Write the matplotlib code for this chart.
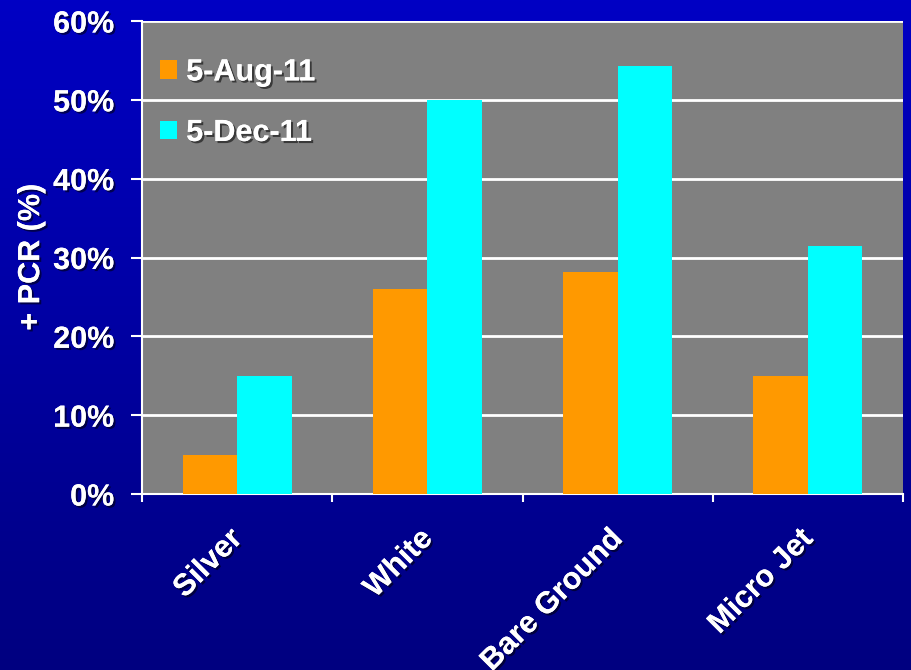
import matplotlib.pyplot as plt
import matplotlib.patheffects as pe
import matplotlib.transforms as mtransforms
from matplotlib.colors import LinearSegmentedColormap
import numpy as np

categories = ['Silver', 'White', 'Bare Ground', 'Micro Jet']
aug_11 = [5.0, 26.0, 28.2, 15.0]
dec_11 = [15.0, 50.0, 54.3, 31.5]
series_labels = ['5-Aug-11', '5-Dec-11']
yticks = [0, 10, 20, 30, 40, 50, 60]

plt.rcParams['font.family'] = ['Liberation Sans', 'DejaVu Sans']
plt.rcParams['font.weight'] = 'bold'

shadow = [pe.withSimplePatchShadow(offset=(1.5, -1.5), shadow_rgbFace='black', alpha=0.55),
          pe.Normal()]

fig = plt.figure(figsize=(9.12, 6.7), dpi=100)

# blue slide background, brighter at the top
bg = fig.add_axes([0, 0, 1, 1], zorder=-10)
grad = np.linspace(0, 1, 256).reshape(-1, 1)
cmap = LinearSegmentedColormap.from_list('slide', ['#0000C4', '#000080'])
bg.imshow(grad, aspect='auto', cmap=cmap, extent=[0, 1, 0, 1])
bg.axis('off')

ax = fig.add_axes([142 / 912, 1 - 494 / 670, 761 / 912, 473 / 670])
ax.set_facecolor('#808080')

x = np.arange(len(categories))
w = 0.287
ax.bar(x - w / 2, aug_11, w, color='#FF9900', label=series_labels[0], zorder=3)
ax.bar(x + w / 2, dec_11, w, color='#00FFFF', label=series_labels[1], zorder=3)

ax.set_xlim(-0.5, len(categories) - 0.5)
ax.set_ylim(0, 60)
ax.set_yticks(yticks)
ax.set_yticklabels([f'{v}%' for v in yticks])
ax.yaxis.grid(True, color='white', linewidth=2, zorder=1)
ax.set_axisbelow(True)

ax.set_xticks(x)
ax.set_xticklabels(categories, rotation=45, ha='right', va='top', rotation_mode='anchor')
ax.set_xticks(np.arange(-0.5, len(categories)), minor=True)
ax.tick_params(axis='x', which='major', length=0, pad=20, colors='white', labelsize=22)
ax.tick_params(axis='x', which='minor', length=6, width=1.5, color='white')
ax.tick_params(axis='y', length=8, width=1.5, color='white', labelcolor='white',
               labelsize=22, pad=12)

for s in ['top', 'right']:
    ax.spines[s].set_visible(False)
for s in ['left', 'bottom']:
    ax.spines[s].set_color('white')
    ax.spines[s].set_linewidth(1.5)

# nudge the slanted category names a little to the left
shift = mtransforms.ScaledTranslation(-10 / 100, -2 / 100, fig.dpi_scale_trans)
for lbl in ax.get_xticklabels():
    lbl.set_transform(lbl.get_transform() + shift)

for lbl in ax.get_xticklabels() + ax.get_yticklabels():
    lbl.set_fontweight('bold')
    lbl.set_path_effects(shadow)

ax.set_ylabel('+ PCR (%)', color='white', fontsize=22, fontweight='bold', labelpad=5,
              path_effects=shadow)

leg = ax.legend(loc='upper left', bbox_to_anchor=(0.024, 0.923), frameon=False,
                fontsize=22, handlelength=0.55, handleheight=0.55, handletextpad=0.3,
                labelspacing=1.0, borderaxespad=0, borderpad=0)
for t in leg.get_texts():
    t.set_color('white')
    t.set_fontweight('bold')
    t.set_path_effects(shadow)

fig.savefig('out.png', dpi=100)
